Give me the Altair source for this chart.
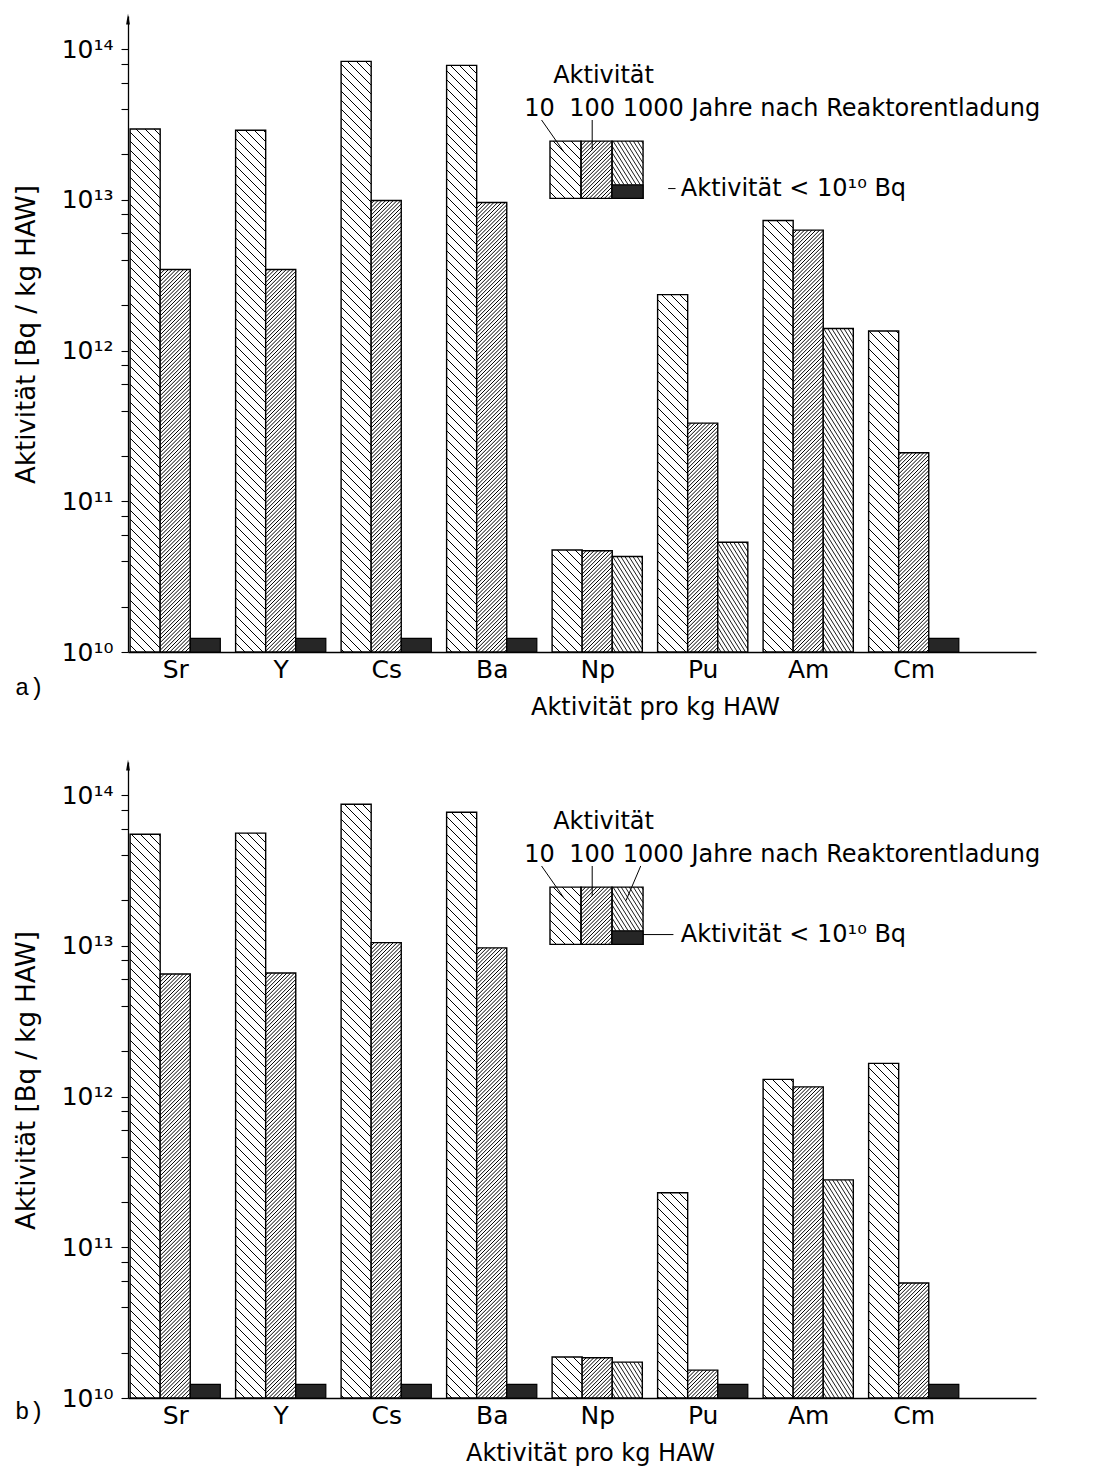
import altair as alt
import pandas as pd
import numpy as np

# ---------------- data ----------------
categories = ["Sr", "Y", "Cs", "Ba", "Np", "Pu", "Am", "Cm"]
years = ["10", "100", "1000"]

# panel a)  activity [Bq / kg HAW] after 10, 100, 1000 years (None = below 1e10 Bq)
a_10 = [2.95e13, 2.9e13, 8.3e13, 7.8e13, 4.75e10, 2.35e12, 7.3e12, 1.35e12]
a_100 = [3.45e12, 3.45e12, 9.9e12, 9.6e12, 4.7e10, 3.3e11, 6.3e12, 2.1e11]
a_1000 = [None, None, None, None, 4.3e10, 5.35e10, 1.4e12, None]

# panel b)
b_10 = [5.5e13, 5.6e13, 8.7e13, 7.7e13, 1.87e10, 2.3e11, 1.3e12, 1.66e12]
b_100 = [6.5e12, 6.6e12, 1.05e13, 9.7e12, 1.85e10, 1.53e10, 1.16e12, 5.8e10]
b_1000 = [None, None, None, None, 1.73e10, None, 2.8e11, None]

BELOW_MARK = 1.23e10   # drawn height of the black "< 1e10 Bq" marker
BASE = 1e10

# ---------------- geometry ----------------
W, H = 908, 636
PXU = 105.5                 # px per category unit
X_MAX = W / PXU
TOP_EXP = 14.22
PXD = H / (TOP_EXP - 10)    # px per decade
BAR_W = 0.285
GROUP_START = 0.02
FONT = "DejaVu Sans"

# hatch styles: (slope, vertical spacing px, line width)
HATCH = {"10": (1.0, 9.0, 1.0), "100": (-1.0, 3.8, 1.0), "1000": (1.6, 6.5, 0.9)}

SUP = {10: "¹⁰", 11: "¹¹", 12: "¹²", 13: "¹³", 14: "¹⁴"}


def hatch_segments(x0, x1, y0, y1, year):
    s, step, sw = HATCH[year]
    u0, u1 = x0 * PXU, x1 * PXU
    v0, v1 = (np.log10(y0) - 10) * PXD, (np.log10(y1) - 10) * PXD
    corners = [v + s * u for u in (u0, u1) for v in (v0, v1)]
    k0 = int(np.floor(min(corners) / step))
    k1 = int(np.ceil(max(corners) / step))
    out = []
    for k in range(k0, k1 + 1):
        c = k * step
        if s > 0:
            lo, hi = (c - v1) / s, (c - v0) / s
        else:
            lo, hi = (c - v0) / s, (c - v1) / s
        ua, ub = max(u0, lo), min(u1, hi)
        if ub - ua > 0.4:
            out.append({
                "x": ua / PXU, "x2": ub / PXU,
                "y": 10 ** (10 + (c - s * ua) / PXD),
                "y2": 10 ** (10 + (c - s * ub) / PXD),
                "sw": sw,
            })
    return out


x_scale = alt.Scale(domain=[0, X_MAX], nice=False, zero=False)
y_scale = alt.Scale(type="log", domain=[BASE, 10 ** TOP_EXP], nice=False)

tick_vals = []
for e in range(10, 14):
    for m in (1, 2, 4, 6, 8):
        tick_vals.append(m * 10.0 ** e)
tick_vals.append(1e14)

y_label_expr = " : ".join(
    f"datum.value == {10.0 ** e:.0f} ? '10{SUP[e]}'" for e in range(10, 15)
) + " : ''"

centers = [i + GROUP_START + 1.5 * BAR_W for i in range(len(categories))]
x_label_expr = " : ".join(
    f"round(datum.value - {GROUP_START + 1.5 * BAR_W}) == {i} ? '{c}'"
    for i, c in enumerate(categories)
) + " : ''"

# legend geometry (data coordinates)
LEG_X0 = 4.0
LEG_BW = 0.294
LEG_YB = 10 ** 13.01
LEG_YT = 10 ** 13.39
LEG_BLACK = 10 ** 13.10
LEG_FS = 24


def make_panel(v10, v100, v1000, letter, letter_dy, title_x, leaders, dash):
    bars, below, hatch = [], [], []
    for i, cat in enumerate(categories):
        for j, (yr, vals) in enumerate(zip(years, (v10, v100, v1000))):
            x0 = i + GROUP_START + j * BAR_W
            x1 = x0 + BAR_W
            v = vals[i]
            if v is None:
                below.append({"x0": x0, "x1": x1, "top": BELOW_MARK, "base": BASE})
            else:
                bars.append({"cat": cat, "year": yr, "x0": x0, "x1": x1,
                             "value": v, "base": BASE})
                hatch += hatch_segments(x0, x1, BASE, v, yr)

    # legend boxes
    leg = []
    for j, yr in enumerate(years):
        x0 = LEG_X0 + j * LEG_BW
        x1 = x0 + LEG_BW
        leg.append({"x0": x0, "x1": x1, "top": LEG_YT, "bot": LEG_YB})
        hatch += hatch_segments(x0, x1, LEG_YB if j < 2 else LEG_BLACK, LEG_YT, yr)
    leg_black = [{"x0": LEG_X0 + 2 * LEG_BW, "x1": LEG_X0 + 3 * LEG_BW,
                  "top": LEG_BLACK, "bot": LEG_YB}]

    texts_left = [
        {"x": 4.03, "y": 10 ** 13.82, "t": "Aktivität"},
        {"x": 4.69, "y": 10 ** 13.60, "t": "1000 Jahre nach Reaktorentladung"},
        {"x": 5.24, "y": 10 ** 13.075, "t": "Aktivität < 10¹⁰ Bq"},
    ]
    texts_center = [
        {"x": 3.90, "y": 10 ** 13.60, "t": "10"},
        {"x": 4.40, "y": 10 ** 13.60, "t": "100"},
    ]
    rules = leaders + [dash]

    xa = alt.Axis(values=centers, labelExpr=x_label_expr, ticks=False, grid=False,
                  domainColor="black", domainWidth=1.3, labelPadding=5,
                  labelFontSize=25, labelFont=FONT, labelColor="black",
                  labelFlush=False, labelOverlap=False,
                  title="Aktivität pro kg HAW", titleFontSize=24, titleFont=FONT,
                  titleFontWeight="normal", titleColor="black", titlePadding=13,
                  titleX=title_x)
    ya = alt.Axis(values=tick_vals, labelExpr=y_label_expr, tickSize=7,
                  tickColor="black", tickWidth=1.1, grid=False,
                  domainColor="black", domainWidth=1.3, labelPadding=8,
                  labelFontSize=25, labelFont=FONT, labelColor="black",
                  labelOverlap=False, labelFlush=False,
                  title="Aktivität [Bq / kg HAW]", titleFontSize=26, titleFont=FONT,
                  titleFontWeight="normal", titleColor="black", titlePadding=22)

    def X(f):
        return alt.X(f, scale=x_scale, axis=xa)

    def Y(f):
        return alt.Y(f, scale=y_scale, axis=ya)

    base_layer = alt.Chart(pd.DataFrame(bars)).mark_rect(
        fill="white", stroke="black", strokeWidth=1.4
    ).encode(x=X("x0:Q"), x2="x1:Q", y=Y("value:Q"), y2="base:Q")
    hatch_layer = alt.Chart(pd.DataFrame(hatch)).mark_rule(color="black").encode(
        x=X("x:Q"), x2="x2:Q", y=Y("y:Q"), y2="y2:Q",
        strokeWidth=alt.StrokeWidth("sw:Q", scale=None),
    )
    below_layer = alt.Chart(pd.DataFrame(below)).mark_rect(
        fill="#262626", stroke="black", strokeWidth=1.2
    ).encode(x=X("x0:Q"), x2="x1:Q", y=Y("top:Q"), y2="base:Q")
    leg_layer = alt.Chart(pd.DataFrame(leg)).mark_rect(
        fill=None, stroke="black", strokeWidth=1.4
    ).encode(x=X("x0:Q"), x2="x1:Q", y=Y("top:Q"), y2="bot:Q")
    leg_black_layer = alt.Chart(pd.DataFrame(leg_black)).mark_rect(
        fill="#262626", stroke="black", strokeWidth=1.2
    ).encode(x=X("x0:Q"), x2="x1:Q", y=Y("top:Q"), y2="bot:Q")
    tl = alt.Chart(pd.DataFrame(texts_left)).mark_text(
        align="left", baseline="middle", fontSize=LEG_FS, font=FONT, color="black"
    ).encode(x=X("x:Q"), y=Y("y:Q"), text="t:N")
    tc = alt.Chart(pd.DataFrame(texts_center)).mark_text(
        align="center", baseline="middle", fontSize=LEG_FS, font=FONT, color="black"
    ).encode(x=X("x:Q"), y=Y("y:Q"), text="t:N")
    rule_layer = alt.Chart(pd.DataFrame(rules)).mark_rule(
        color="black", strokeWidth=1
    ).encode(x=X("x:Q"), x2="x2:Q", y=Y("y:Q"), y2="y2:Q")
    arrow = alt.Chart(pd.DataFrame({"k": [0]})).mark_point(
        shape="M0,-1L0.3,0.7L-0.3,0.7Z", filled=True, color="black",
        size=160, opacity=1
    ).encode(x=alt.value(0), y=alt.value(4))
    lab = alt.Chart(pd.DataFrame({"k": [0]})).mark_text(
        align="left", baseline="middle", font="Liberation Mono", fontSize=24,
        color="black"
    ).encode(x=alt.value(-113), y=alt.value(H + letter_dy), text=alt.value(letter))

    return alt.layer(
        base_layer, hatch_layer, below_layer, leg_layer, leg_black_layer,
        rule_layer, tl, tc, arrow, lab
    ).properties(width=W, height=H)


lead_a = [
    {"x": 3.92, "x2": 4.13, "y": 10 ** 13.53, "y2": 10 ** 13.32},
    {"x": 4.40, "x2": 4.40, "y": 10 ** 13.53, "y2": 10 ** 13.33},
]
dash_a = {"x": 5.12, "x2": 5.19, "y": 10 ** 13.075, "y2": 10 ** 13.075}
lead_b = [
    {"x": 3.92, "x2": 4.13, "y": 10 ** 13.53, "y2": 10 ** 13.32},
    {"x": 4.40, "x2": 4.40, "y": 10 ** 13.53, "y2": 10 ** 13.33},
    {"x": 4.86, "x2": 4.72, "y": 10 ** 13.53, "y2": 10 ** 13.30},
]
dash_b = {"x": LEG_X0 + 3 * LEG_BW, "x2": 5.17, "y": 10 ** 13.075, "y2": 10 ** 13.075}

panel_a = make_panel(a_10, a_100, a_1000, "a)", 36, 527, lead_a, dash_a)
panel_b = make_panel(b_10, b_100, b_1000, "b)", 14, 462, lead_b, dash_b)

chart = alt.vconcat(panel_a, panel_b, spacing=40).configure(
    font=FONT, background="white"
).configure_view(stroke=None)

chart.save("out.html", embed_options={"renderer": "svg", "actions": False})
